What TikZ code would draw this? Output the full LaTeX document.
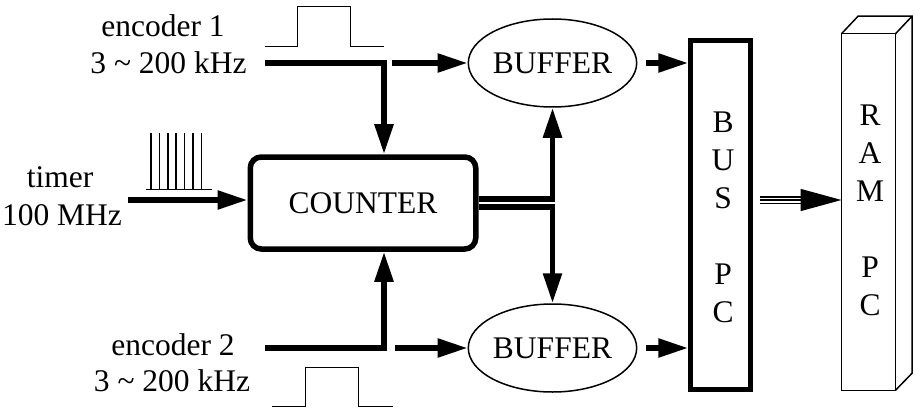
\documentclass[tikz,border=0pt]{standalone}
\usepackage{fontspec}
\setmainfont{Liberation Serif}
\usetikzlibrary{arrows.meta,shapes.geometric}
\begin{document}
\begin{tikzpicture}[x=1pt,y=-1pt,
  txt/.style={font=\fontsize{31.5}{38}\selectfont, inner sep=0pt},
  lbl/.style={txt, anchor=base},
  wire/.style={line width=5.5pt},
  arr/.style={wire, -{Triangle[length=30pt,width=18pt]}},
  thinline/.style={line width=1.5pt},
  bufbox/.style={ellipse, draw, thinline, minimum width=160pt, minimum height=88pt, txt},
  letters/.style={txt, align=center}]
\useasboundingbox (0,0) rectangle (915,409);

% labels
\node[lbl] (e1a) at (163,37) {encoder 1};
\node[lbl] (e1b) at (168.5,74) {3 \textasciitilde{} 200 kHz};
\node[lbl] (t1) at (60,187) {timer};
\node[lbl] (t2) at (62,225) {100 MHz};
\node[lbl] (e2a) at (173,355) {encoder 2};
\node[lbl] (e2b) at (172,391) {3 \textasciitilde{} 200 kHz};

% blocks
\node[draw, line width=5.5pt, rounded corners=11pt, minimum width=225.5pt, minimum height=92pt, txt] (ctr) at (363,203) {COUNTER};
\node[bufbox] (buf1) at (552.5,63) {BUFFER};
\node[bufbox] (buf2) at (552.5,348) {BUFFER};
\node[draw, line width=4.5pt, minimum width=60pt, minimum height=348.5pt] (bus) at (720.5,215) {};
\node[letters] (bustxt) at (723,217) {B\\U\\S\\[38pt]P\\C};
\node[draw, thinline, outer sep=0pt, minimum width=54pt, minimum height=356.5pt] (ram) at (868.5,212) {};
\node[letters] (ramtxt) at (870,210) {R\\A\\M\\[38pt]P\\C};
\draw[thinline, line join=miter] (ram.north west) -- ++(16.5,-17.5) -- ++(54,0) -- ++(0,357) -- (ram.south east)
  (ram.north east) -- ++(16.5,-17.5);

% signal shapes
\draw[thinline] (264.7,46.7) -- (297.3,46.7) -- (297.3,6.7) -- (350.7,6.7) -- (350.7,46.7) -- (384,46.7);
\draw[thinline] (271.7,406.7) -- (305.7,406.7) -- (305.7,367.3) -- (358.3,367.3) -- (358.3,406.7) -- (392.7,406.7);
\draw[thinline] (146,189.3) -- (211.7,189.3);
\foreach \xx in {151,159.4,167.8,176.2,184.6,193,201.4}
  \draw[thinline] (\xx,133) -- (\xx,189.3);

% encoder 1
\coordinate (e1s) at (264.7,63);
\coordinate (e1c) at (384,63);
\draw[arr] (e1s) -- (e1c) -- (e1c |- ctr.north);
\coordinate (e1o) at (392,63);
\draw[arr] (e1o) -- (buf1.west);

% timer
\coordinate (ts) at (128,200);
\draw[arr] (ts) -- (ts -| ctr.west);

% encoder 2
\coordinate (e2s) at (265,348);
\coordinate (e2c) at (384,348);
\draw[arr] (e2s) -- (e2c) -- (e2c |- ctr.south);
\coordinate (e2o) at (395,348);
\draw[arr] (e2o) -- (buf2.west);

% counter fork
\draw[arr] ([yshift=4pt]ctr.east) -| (buf1.south);
\draw[arr] ([yshift=-4pt]ctr.east) -| (buf2.north);

% buffers to bus
\draw[arr] ([xshift=9pt]buf1.east) -- (bus.west |- buf1.east);
\draw[arr] ([xshift=9pt]buf2.east) -- (bus.west |- buf2.east);

% bus to ram (triple line)
\coordinate (ta) at (760,200);
\coordinate (tb) at (ram.west |- ta);
\draw[line width=8pt] (ta) -- ([xshift=-39pt]tb);
\draw[white, line width=5pt] ([xshift=-1pt]ta) -- ([xshift=-38pt]tb);
\draw[line width=1.5pt, -{Triangle[length=41pt,width=22pt]}] (ta) -- (tb);
\end{tikzpicture}
\end{document}
